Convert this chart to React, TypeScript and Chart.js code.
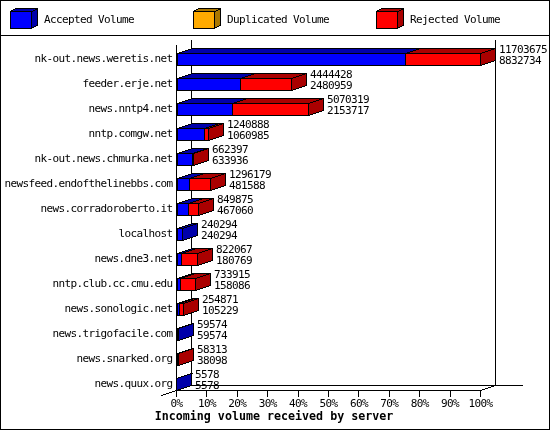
import { useEffect, useRef } from "react"
import { Chart, registerables } from "chart.js"

Chart.register(...registerables)

const servers = [
  "nk-out.news.weretis.net",
  "feeder.erje.net",
  "news.nntp4.net",
  "nntp.comgw.net",
  "nk-out.news.chmurka.net",
  "newsfeed.endofthelinebbs.com",
  "news.corradoroberto.it",
  "localhost",
  "news.dne3.net",
  "nntp.club.cc.cmu.edu",
  "news.sonologic.net",
  "news.trigofacile.com",
  "news.snarked.org",
  "news.quux.org",
]

// upper number next to each bar
const totalVolume = [
  11703675, 4444428, 5070319, 1240888, 662397, 1296179, 849875, 240294, 822067, 733915, 254871, 59574, 58313, 5578,
]
const acceptedVolume = [
  8832734, 2480959, 2153717, 1060985, 633936, 481588, 467060, 240294, 180769, 158086, 105229, 59574, 38098, 5578,
]
const duplicatedVolume = [0, 0, 0, 0, 0, 0, 0, 0, 0, 0, 0, 0, 0, 0]
const rejectedVolume = [
  2870941, 1963469, 2916602, 179903, 28461, 814591, 382815, 0, 641298, 575829, 149642, 0, 20215, 0,
]
const percentTicks = [0, 10, 20, 30, 40, 50, 60, 70, 80, 90, 100]
const axisTitle = "Incoming volume received by server"

const BLACK = "#000000"
const MONO = "DejaVu Sans Mono"
const shades = ["#0000aa", "#aa7700", "#aa0000"]
const DEPTH_X = 15
const DEPTH_Y = 5

// where the front of the floor sits on the category axis, just under the last bar
const floorValue = 13.24

const maxVolume = Math.max(...totalVolume)

// gd draws without antialiasing, so lines are plotted pixel by pixel
const pixelLine = (ctx: CanvasRenderingContext2D, x0: number, y0: number, x1: number, y1: number) => {
  const dx = Math.abs(x1 - x0)
  const dy = Math.abs(y1 - y0)
  const sx = x0 < x1 ? 1 : -1
  const sy = y0 < y1 ? 1 : -1
  let err = dx - dy
  let x = x0
  let y = y0
  ctx.fillStyle = BLACK
  while (true) {
    ctx.fillRect(x, y, 1, 1)
    if (x === x1 && y === y1) break
    const e2 = 2 * err
    if (e2 > -dy) {
      err -= dy
      x += sx
    }
    if (e2 < dx) {
      err += dx
      y += sy
    }
  }
}

const face = (ctx: CanvasRenderingContext2D, pts: number[][], color: string) => {
  ctx.beginPath()
  pts.forEach(([x, y], i) => (i ? ctx.lineTo(x + 0.5, y + 0.5) : ctx.moveTo(x + 0.5, y + 0.5)))
  ctx.closePath()
  ctx.fillStyle = color
  ctx.fill()
  pts.forEach(([x, y], i) => {
    const [nx, ny] = pts[(i + 1) % pts.length]
    pixelLine(ctx, x, y, nx, ny)
  })
}

const topFace = (ctx: CanvasRenderingContext2D, l: number, r: number, t: number, dx: number, dy: number, color: string) =>
  face(ctx, [[l, t], [r, t], [r + dx, t - dy], [l + dx, t - dy]], color)

const sideFace = (ctx: CanvasRenderingContext2D, r: number, t: number, b: number, dx: number, dy: number, color: string) =>
  face(ctx, [[r, t], [r + dx, t - dy], [r + dx, b - dy], [r, b]], color)

const frame3d = {
  id: "frame3d",
  // snap the bars to whole pixels, neighbours share their border column
  afterDatasetsUpdate(chart: any) {
    chart.data.datasets.forEach((ds: any, d: number) => {
      chart.getDatasetMeta(d).data.forEach((bar: any, i: number) => {
        bar.base = Math.floor(bar.base)
        bar.x = ds.data[i] === 0 ? bar.base : Math.floor(bar.x) + 1
      })
    })
  },
  beforeDraw(chart: any) {
    const { ctx, width, height } = chart
    // squeeze the 11px font to the 6px cell of the bitmap font, this stays on for the axis labels too
    ctx.letterSpacing = "-0.62px"
    ctx.save()
    ctx.fillStyle = "#ffffff"
    ctx.fillRect(0, 0, width, height)
    ctx.fillStyle = BLACK
    ctx.fillRect(0, 0, width, 1)
    ctx.fillRect(0, height - 1, width, 1)
    ctx.fillRect(0, 0, 1, height)
    ctx.fillRect(width - 1, 0, 1, height)
    ctx.fillRect(0, 35, width, 1)

    // legend
    ctx.font = `11px "${MONO}"`
    ctx.textBaseline = "middle"
    ctx.textAlign = "left"
    chart.data.datasets.forEach((ds: any, d: number) => {
      const l = 10 + d * 183
      ctx.fillStyle = ds.backgroundColor
      ctx.fillRect(l, 11, 21, 17)
      ;[[l, 11, l + 21, 11], [l, 28, l + 21, 28], [l, 11, l, 28], [l + 21, 11, l + 21, 28]].forEach(([a, b, c, e]) =>
        pixelLine(ctx, a, b, c, e),
      )
      topFace(ctx, l, l + 21, 11, 6, 3, shades[d])
      sideFace(ctx, l + 21, 11, 28, 6, 3, shades[d])
      ctx.fillStyle = BLACK
      ctx.fillText(ds.label, l + 34, 20.5)
    })
    ctx.restore()
  },
  beforeDatasetsDraw(chart: any) {
    const { ctx, chartArea } = chart
    const yAxis = chart.scales.y
    const left = Math.floor(chartArea.left)
    const right = Math.floor(chartArea.right)
    const floor = Math.floor(yAxis.getPixelForValue(floorValue))
    const top = chartArea.top - 2
    ctx.save()
    pixelLine(ctx, left + DEPTH_X, top - DEPTH_Y, left + DEPTH_X, floor - DEPTH_Y)
    pixelLine(ctx, right + DEPTH_X, top - DEPTH_Y, right + DEPTH_X, floor - DEPTH_Y)
    pixelLine(ctx, left + DEPTH_X, floor - DEPTH_Y, right + 42, floor - DEPTH_Y)
    pixelLine(ctx, left, floor, left - DEPTH_X, floor + DEPTH_Y)
    pixelLine(ctx, left, floor, left + DEPTH_X, floor - DEPTH_Y)
    pixelLine(ctx, right, floor, right + DEPTH_X, floor - DEPTH_Y)
    ctx.restore()
  },
  afterDatasetsDraw(chart: any) {
    const { ctx, chartArea, width } = chart
    const yAxis = chart.scales.y
    const left = Math.floor(chartArea.left)
    const floor = Math.floor(yAxis.getPixelForValue(floorValue))
    ctx.save()
    servers.forEach((_, i) => {
      let tip = left
      let t = 0
      let b = 0
      let shade = ""
      chart.data.datasets.forEach((ds: any, d: number) => {
        if (ds.data[i] === 0) return
        const bar = chart.getDatasetMeta(d).data[i]
        t = Math.floor(bar.y - bar.height / 2)
        b = t + bar.height - 1
        tip = bar.x - 1
        shade = shades[d]
        topFace(ctx, bar.base, tip, t, DEPTH_X, DEPTH_Y, shade)
      })
      sideFace(ctx, tip, t, b, DEPTH_X, DEPTH_Y, shade)

      ctx.fillStyle = BLACK
      ctx.font = `11px "${MONO}"`
      ctx.textAlign = "left"
      ctx.textBaseline = "middle"
      const textX = tip + DEPTH_X + 4
      ctx.fillText(String(totalVolume[i]), textX, t - 3)
      ctx.fillText(String(acceptedVolume[i]), textX, t + 8)
    })
    pixelLine(ctx, left, chartArea.top - 2, left, floor)

    // centred on the whole canvas, not on the plot
    ctx.letterSpacing = "0px"
    ctx.fillStyle = BLACK
    ctx.font = `bold 11.67px "${MONO}"`
    ctx.textAlign = "center"
    ctx.fillText(axisTitle, width / 2 - 1, 417)
    ctx.restore()
  },
}

const App = () => {
  const chartRef = useRef<HTMLCanvasElement>(null)

  useEffect(() => {
    if (!chartRef.current) return

    const chart = new Chart(chartRef.current, {
      type: "bar",
      plugins: [frame3d],
      data: {
        labels: servers,
        datasets: [
          { label: "Accepted Volume", data: acceptedVolume, backgroundColor: "#0000ff" },
          { label: "Duplicated Volume", data: duplicatedVolume, backgroundColor: "#ffaa00" },
          { label: "Rejected Volume", data: rejectedVolume, backgroundColor: "#ff0000" },
        ],
      },
      options: {
        indexAxis: "y",
        responsive: false,
        devicePixelRatio: 1,
        animation: false,
        layout: { padding: { top: 47, right: 69.5, bottom: 33, left: 0 } },
        datasets: {
          bar: {
            barThickness: 13,
            borderWidth: 1,
            borderColor: BLACK,
            borderSkipped: false,
            inflateAmount: 0,
            clip: false,
          },
        },
        plugins: {
          legend: { display: false },
          tooltip: { enabled: false },
        },
        scales: {
          x: {
            stacked: true,
            position: { y: floorValue },
            min: 0,
            max: maxVolume,
            afterBuildTicks: (scale: any) => {
              scale.ticks = percentTicks.map((p) => ({ value: (p / 100) * maxVolume }))
            },
            grid: { drawOnChartArea: false, drawTicks: true, tickLength: 6, tickColor: BLACK, tickWidth: 1 },
            border: { display: true, color: BLACK, width: 1 },
            ticks: {
              autoSkip: false,
              maxRotation: 0,
              padding: 1,
              color: BLACK,
              font: { family: MONO, size: 11 },
              callback: (_: any, i: number) => `${percentTicks[i]}%`,
            },
          },
          y: {
            stacked: true,
            afterFit: (scale: any) => {
              scale.width = 176.5
            },
            grid: { display: false, drawTicks: false },
            border: { display: false },
            ticks: { autoSkip: false, padding: 4, color: BLACK, font: { family: MONO, size: 11 } },
          },
        },
      } as any,
    })

    return () => chart.destroy()
  }, [])

  return (
    <div style={{ position: "absolute", left: 0, top: 0, width: 550, height: 430 }}>
      <canvas ref={chartRef} width={550} height={430} style={{ display: "block" }} />
    </div>
  )
}

export default App
